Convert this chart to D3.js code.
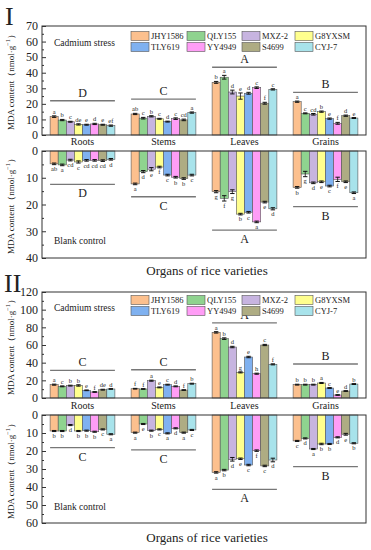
<!DOCTYPE html>
<html><head><meta charset="utf-8">
<script src="https://cdn.jsdelivr.net/npm/d3@7"></script>
<style>
body{margin:0;background:#fff}
text{font-family:"Liberation Serif","Times New Roman",serif;fill:#222}
</style>
</head><body><svg id="c" width="371" height="550"></svg>
<script>
// ---------- DATA ----------
const organs = ["Roots","Stems","Leaves","Grains"];
const varieties = ["JHY1586","QLY155","MXZ-2","G8YXSM","TLY619","YY4949","S4699","CYJ-7"];
const colors = ["#FCC08E","#8FD38F","#C7B4E0","#FFFF8E","#7FB1F0","#FF9DF6","#AEAC83","#A8E3EB"];

// Panel I, cadmium stress (rows = organs, cols = varieties)
const p1Cd = [
  [11.8, 9.6, 8.5, 6.8, 6.6, 7.1, 6.6, 6.0],
  [13.5, 10.8, 12.0, 10.4, 8.6, 10.5, 9.7, 14.4],
  [33.8, 37.1, 27.6, 25.0, 26.8, 30.4, 20.4, 29.3],
  [21.4, 13.9, 13.3, 15.0, 10.5, 7.5, 12.4, 10.9]
];
const p1CdErr = [
  [0.5,0.4,0.3,0.4,0.3,0.4,0.3,0.4],
  [0.4,0.5,0.4,0.3,0.3,0.5,0.5,0.4],
  [0.6,1.2,1.2,2.0,0.6,0.5,0.6,0.4],
  [0.4,0.3,0.5,0.4,0.4,0.6,0.4,0.3]
];
const p1CdLetters = [
  ["a","b","c","de","e","d","e","ef"],
  ["ab","c","b","c","d","c","cd","a"],
  ["b","a","d","e","d","c","f","c"],
  ["a","c","cd","b","e","f","d","e"]
];
const p1CdGroup = ["D","C","A","B"];
const p1CdGroupLevel = [22, 23, 43.5, 27.4];

// Panel I, blank control
const p1Ck = [
  [4.8, 5.2, 3.4, 4.1, 3.5, 3.5, 3.6, 3.1],
  [12.3, 7.7, 6.8, 6.0, 9.0, 9.8, 10.3, 9.0],
  [15.2, 17.7, 15.2, 23.6, 22.9, 26.5, 19.1, 21.6],
  [13.6, 8.6, 11.9, 11.5, 13.1, 10.6, 11.5, 15.6]
];
const p1CkErr = [
  [0.3,0.3,0.3,0.4,0.3,0.3,0.3,0.3],
  [0.3,0.4,0.6,0.3,0.3,0.3,0.3,0.3],
  [0.4,1.0,0.7,0.3,0.3,0.3,0.3,0.4],
  [0.3,1.0,0.3,0.3,0.3,0.8,0.3,0.3]
];
const p1CkLetters = [
  ["ab","a","cd","c","cd","cd","cd","d"],
  ["a","d","e","f","c","b","b","c"],
  ["g","f","g","b","c","a","e","d"],
  ["b","g","d","e","c","f","e","a"]
];
const p1CkGroup = ["D","C","A","B"];
const p1CkGroupLevel = [12.5, 17.1, 29.6, 20.8];

// Panel II, cadmium stress
const p2Cd = [
  [15.1, 13.2, 14.0, 14.2, 8.7, 6.8, 9.4, 10.2],
  [10.5, 10.2, 19.6, 12.0, 15.1, 13.2, 9.0, 16.2],
  [74.3, 67.2, 57.7, 29.0, 46.4, 27.5, 60.0, 38.1],
  [15.1, 15.1, 15.1, 17.0, 11.3, 3.4, 7.9, 15.8]
];
const p2CdErr = [
  [0.6,0.5,0.5,0.8,0.4,0.4,0.5,0.4],
  [0.4,0.4,0.6,0.5,0.5,0.5,0.4,0.5],
  [0.8,0.9,0.8,0.6,0.8,0.6,0.7,0.6],
  [0.5,0.5,0.5,0.6,0.5,0.4,0.4,0.5]
];
const p2CdLetters = [
  ["a","c","b","b","e","f","de","d"],
  ["f","f","a","e","c","d","f","b"],
  ["a","b","d","g","e","h","c","f"],
  ["b","b","b","a","c","e","d","b"]
];
const p2CdGroup = ["C","C","A","B"];
const p2CdGroupLevel = [31.3, 32, 85, 38.5];

// Panel II, blank control
const p2Ck = [
  [8.9, 8.9, 5.6, 8.9, 8.7, 9.3, 8.0, 10.7],
  [9.8, 5.0, 8.7, 8.0, 10.2, 7.4, 9.8, 8.3],
  [31.9, 30.6, 24.6, 24.3, 27.8, 19.8, 28.3, 25.0],
  [14.4, 13.0, 18.9, 16.1, 16.1, 12.4, 10.7, 15.7]
];
const p2CkErr = [
  [0.3,0.3,0.3,0.3,0.3,0.3,0.3,0.3],
  [0.3,0.3,0.3,0.3,0.3,0.3,0.3,0.3],
  [0.4,0.4,1.0,0.4,0.4,0.4,0.4,1.0],
  [0.3,0.3,0.3,0.4,0.3,0.3,0.5,0.3]
];
const p2CkLetters = [
  ["b","b","d","b","b","b","c","a"],
  ["a","e","b","c","a","d","a","c"],
  ["a","b","d","e","c","f","c","d"],
  ["c","d","a","b","b","d","e","b"]
];
const p2CkGroup = ["C","C","A","B"];
const p2CkGroupLevel = [18.1, 19.4, 41.3, 28.7];

const p1CdTicks = [0,10,20,30,40,50,60,70];
const p1CkTicks = [0,10,20,30,40];
const p2CdTicks = [0,20,40,60,80,100,120];
const p2CkTicks = [0,10,20,30,40,50,60];

// ---------- LAYOUT ----------
const svg = d3.select("#c");
const X0 = 42, X1 = 366;
const x = d3.scaleBand().domain(organs).range([X0, X1]).paddingInner(0.2).paddingOuter(0.1);
const x1 = d3.scaleBand().domain(varieties).range([0, x.bandwidth()]).padding(0);
const color = d3.scaleOrdinal().domain(varieties).range(colors);

function yTitle(cy){
  const t = svg.append("text")
    .attr("transform", `translate(12,${cy}) rotate(-90)`)
    .attr("text-anchor","middle").attr("dominant-baseline","middle")
    .style("font-size","9px");
  t.append("tspan").text("MDA content（nmol·g");
  t.append("tspan").attr("dy","-3").style("font-size","6.5px").text("−1");
  t.append("tspan").attr("dy","3").text("）");
}

function drawPlot(cfg){
  const up = cfg.dir === "up";
  const y = d3.scaleLinear().domain([0, cfg.max])
    .range(up ? [cfg.base, cfg.end] : [cfg.base, cfg.end]);
  const top = Math.min(cfg.base, cfg.end), bot = Math.max(cfg.base, cfg.end);
  const g = svg.append("g");

  // bars
  organs.forEach((o, oi) => {
    const gg = g.append("g").attr("transform", `translate(${x(o)},0)`);
    const vals = cfg.values[oi];
    gg.selectAll("rect").data(vals).join("rect")
      .attr("x", (d,i) => x1(varieties[i]))
      .attr("width", x1.bandwidth())
      .attr("y", d => up ? y(d) : y(0))
      .attr("height", d => Math.abs(y(d) - y(0)))
      .attr("fill", (d,i) => color(varieties[i]))
      .attr("stroke", "#555").attr("stroke-width", 0.6);
    // error bars
    vals.forEach((v, i) => {
      const e = cfg.errors[oi][i];
      const cx = x1(varieties[i]) + x1.bandwidth()/2;
      gg.append("line").attr("x1",cx).attr("x2",cx)
        .attr("y1", y(v - e)).attr("y2", y(v + e))
        .attr("stroke","#111").attr("stroke-width",0.8);
      [v - e, v + e].forEach(w => gg.append("line")
        .attr("x1", cx - 2.2).attr("x2", cx + 2.2)
        .attr("y1", y(w)).attr("y2", y(w))
        .attr("stroke","#111").attr("stroke-width",1));
      gg.append("text")
        .attr("x", cx)
        .attr("y", up ? y(v + e) - 2 : y(v + e) + 6.5)
        .attr("text-anchor","middle")
        .style("font-size","6.5px")
        .text(cfg.letters[oi][i]);
    });
    // group line + letter
    const ly = y(cfg.groupLevel[oi]);
    g.append("line").attr("x1", x(o)).attr("x2", x(o) + x.bandwidth())
      .attr("y1", ly).attr("y2", ly).attr("stroke","#777").attr("stroke-width",1.3);
    g.append("text").attr("x", x(o) + x.bandwidth()/2)
      .attr("y", up ? ly - 4 : ly + 13)
      .attr("text-anchor","middle").style("font-size","12px")
      .text(cfg.group[oi]);
  });

  // axis (ticks inward)
  const ax = g.append("g").attr("transform", `translate(${X0},0)`)
    .call(d3.axisLeft(y).tickValues(cfg.ticks).tickSizeInner(-4).tickSizeOuter(0).tickPadding(4));
  ax.select(".domain").remove();
  ax.selectAll("text").style("font-size","12px").style("font-family","'Liberation Serif',serif").attr("fill","#222");
  ax.selectAll("line").attr("stroke","#333");
  const minorVals = d3.range(0, cfg.max + 0.001, cfg.minor).filter(v => !cfg.ticks.includes(v));
  const axm = g.append("g").attr("transform", `translate(${X0},0)`)
    .call(d3.axisLeft(y).tickValues(minorVals).tickSizeInner(-2).tickSizeOuter(0).tickFormat(""));
  axm.select(".domain").remove();
  axm.selectAll("line").attr("stroke","#333");

  // frame
  g.append("rect").attr("x", X0).attr("y", top).attr("width", X1 - X0).attr("height", bot - top)
    .attr("fill","none").attr("stroke","#333").attr("stroke-width",1);

  g.append("text").attr("x", 54).attr("y", cfg.labelY).style("font-size","9.5px").text(cfg.label);
}

function legend(y0){
  const colX = [131, 187, 242, 295];
  varieties.forEach((v, i) => {
    const cx = colX[i % 4], cy = y0 + Math.floor(i / 4) * 11;
    svg.append("rect").attr("x", cx).attr("y", cy - 4.5).attr("width", 18).attr("height", 9)
      .attr("fill", color(v)).attr("stroke","#555").attr("stroke-width",0.6);
    svg.append("text").attr("x", cx + 20).attr("y", cy + 3).style("font-size","8.5px").text(v);
  });
}

function orgLabels(cy){
  organs.forEach(o => svg.append("text").attr("x", x(o) + x.bandwidth()/2).attr("y", cy)
    .attr("text-anchor","middle").attr("dominant-baseline","middle").style("font-size","10px").text(o));
}

// ---------- PANEL I ----------
svg.append("text").attr("x", 5).attr("y", 25).style("font-size","26px").text("I");
drawPlot({dir:"up", base:135, end:26, max:70, ticks:p1CdTicks, minor:5,
  values:p1Cd, errors:p1CdErr, letters:p1CdLetters, group:p1CdGroup, groupLevel:p1CdGroupLevel,
  label:"Cadmium stress", labelY:46});
drawPlot({dir:"down", base:151, end:258, max:40, ticks:p1CkTicks, minor:5,
  values:p1Ck, errors:p1CkErr, letters:p1CkLetters, group:p1CkGroup, groupLevel:p1CkGroupLevel,
  label:"Blank control", labelY:244});
legend(36);
orgLabels(143);
yTitle(80); yTitle(204);
svg.append("text").attr("x", 207).attr("y", 275).attr("text-anchor","middle").style("font-size","13px").text("Organs of rice varieties");

// ---------- PANEL II ----------
svg.append("text").attr("x", 4).attr("y", 292).style("font-size","26px").text("II");
drawPlot({dir:"up", base:398, end:292, max:120, ticks:p2CdTicks, minor:10,
  values:p2Cd, errors:p2CdErr, letters:p2CdLetters, group:p2CdGroup, groupLevel:p2CdGroupLevel,
  label:"Cadmium stress", labelY:311});
drawPlot({dir:"down", base:415, end:523, max:60, ticks:p2CkTicks, minor:5,
  values:p2Ck, errors:p2CkErr, letters:p2CkLetters, group:p2CkGroup, groupLevel:p2CkGroupLevel,
  label:"Blank control", labelY:510});
legend(300);
orgLabels(407);
yTitle(345); yTitle(469);
svg.append("text").attr("x", 207).attr("y", 542).attr("text-anchor","middle").style("font-size","13px").text("Organs of rice varieties");
</script>
</body></html>
